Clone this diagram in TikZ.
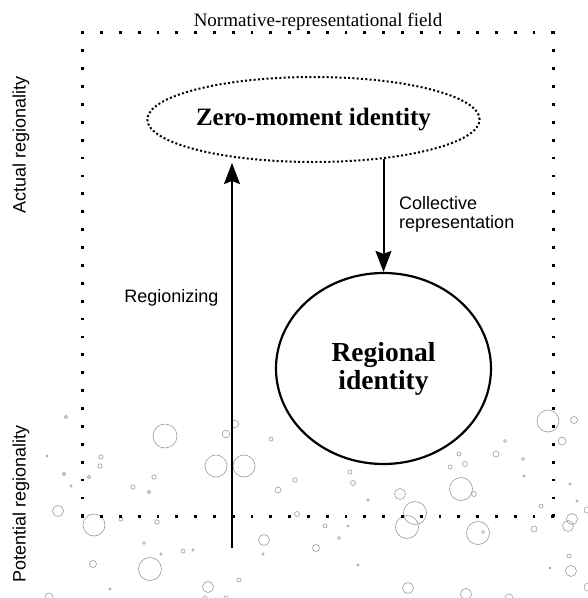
\documentclass[tikz,border=0pt]{standalone}
\usepackage{fontspec}
\setmainfont{Liberation Serif}
\newfontfamily\sansf{Liberation Sans}
\usetikzlibrary{arrows.meta,shapes.geometric}

\definecolor{bubblegrey}{HTML}{9A9A9A}

\tikzset{
  bubble/.style={draw=bubblegrey, line width=0.6pt},
  fielddots/.style={line width=2.8pt, line cap=rect, dash pattern=on 0.01pt off #1},
  statebox/.style={ellipse, inner sep=0pt, align=center, font=\bfseries},
  flow/.style={line width=2pt, -{Stealth[length=21pt,width=16pt,inset=3pt]}},
  sidelabel/.style={font=\sansf\fontsize{18}{20}\selectfont},
}

\begin{document}
\begin{tikzpicture}[x=1pt, y=-1pt]
  \useasboundingbox (0,0) rectangle (588,598);

  % scattered bubbles of the potential level
  \foreach \bx/\by/\br in {
    66/417/1.6, 165/436/12, 47/456/1, 101/457/2.2, 100/466/2.2, 64/474/1.6,
    89/477/1.6, 71/486/1.2, 154/477/2.2, 133/487/2.2, 149/492/1.6, 226/434/3.8,
    235/424/3.8, 216/466/11, 244/466/11, 271/439/2, 295/480/2.2, 278/490/3,
    58/511/5.5, 94/525/11, 121/519/2, 157/522/2.2, 144/543/1.5, 161/554/1.2,
    183/551/2, 193/550/1.2, 93/564/3.5, 150/569/11.5, 110/589/1.2, 49/597/4,
    208/587/5.5, 239/580/2, 264/540/5.5, 263/554/1.3, 297/514/2.5,
    548/421/11, 574/420/3.5, 562/441/4, 505/441/1.5, 496/454/3, 459/454/2,
    465/464/2.5, 450/467/2, 523/459/1.5, 524/476/1.2, 350/472/2, 353/483/2.5,
    400/494/5.5, 461/489/11.5, 474/494/2.5, 368/500/1.2, 570/484/1.2,
    577/501/1.2, 541/506/2, 587/510/3, 415/513/11.5, 407/527/11.5, 325/526/2,
    348/526/1, 339/538/1.5, 316/548/3.5, 572/519/5.5, 568/526/5.5, 534/529/3,
    478/533/11.5, 483/532/1.5, 358/565/1.2, 569/556/2, 550/568/1, 571/571/5.5,
    408/588/5.5, 466/594/5.5, 509/598/4, 588/587/4, 205/598/2, 226/598/2}
    \draw[bubble] (\bx,\by) circle[radius=\br];

  % normative-representational field
  \node[minimum width=470pt, minimum height=483pt, inner sep=0pt] (field) at (318,274.5) {};
  \draw[fielddots=18.79pt] (field.north west) -- (field.north east);
  \draw[fielddots=18.79pt] (field.south west) -- (field.south east);
  \draw[fielddots=17.88pt] (field.north west) -- (field.south west);
  \draw[fielddots=17.88pt] (field.north east) -- (field.south east);
  \node[anchor=base, font=\fontsize{19}{21}\selectfont] (title) at (318,26) {Normative-representational field};

  % identities
  \node[statebox, minimum width=297pt, minimum height=85pt,
        font=\bfseries\fontsize{25}{27}\selectfont,
        draw, line width=2pt, dash pattern=on 2pt off 2.3pt]
        (zero) at (313.5,119.5) {Zero-moment identity};
  \node[statebox, minimum width=215pt, minimum height=191pt, draw, line width=2.2pt,
        font=\bfseries\fontsize{27.5}{28}\selectfont]
        (regional) at (383.5,368.5) {Regional\\identity};

  % processes
  \coordinate (base) at (232,548);
  \draw[flow] (base) -- (base |- zero.south);
  \draw[flow, shorten <=-4pt] (regional.north |- zero.south) -- (regional.north);

  \node[sidelabel, anchor=base] (regionizing) at (171.5,302) {Regionizing};
  \node[sidelabel, anchor=north west, align=left, inner sep=0pt,
        font=\sansf\fontsize{18}{19.5}\selectfont]
        (collective) at (399,196) {Collective\\representation};

  % levels of regionality
  \node[sidelabel, rotate=90, anchor=base] (actual) at (25.5,145) {Actual regionality};
  \node[sidelabel, rotate=90, anchor=base] (potential) at (25.5,503.5) {Potential regionality};
\end{tikzpicture}
\end{document}
